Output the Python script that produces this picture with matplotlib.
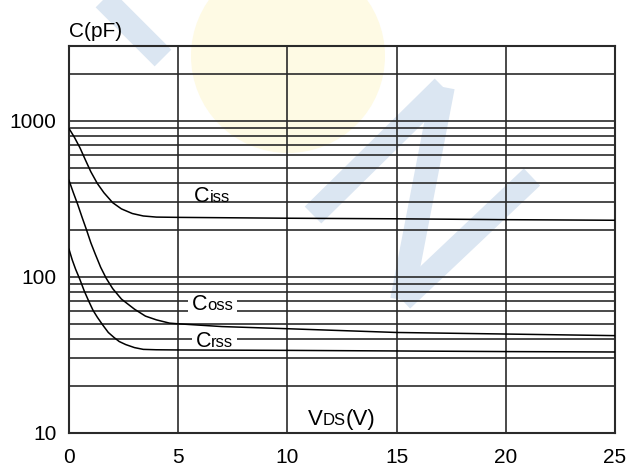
import matplotlib
matplotlib.use("Agg")
import matplotlib.pyplot as plt
from matplotlib.patches import Circle
from matplotlib.lines import Line2D

plt.rcParams['font.family'] = ['Liberation Sans', 'DejaVu Sans']

# ---- data ----
vds_ciss = [0, 0.25, 0.5, 0.75, 1.0, 1.3, 1.6, 2.0, 2.4, 2.9, 3.4, 4, 5,
            10, 15, 20, 25]
ciss = [890, 780, 670, 560, 470, 395, 345, 298, 272, 254, 245, 241, 240,
        237, 235, 232, 230]

vds_coss = [0, 0.2, 0.4, 0.6, 0.8, 1.0, 1.2, 1.45, 1.7, 2.0, 2.4, 3, 3.5,
            4, 4.6, 5, 7, 10, 15, 20, 25]
coss = [414, 345, 290, 240, 200, 165, 140, 115, 98, 84, 72, 62, 56,
        53, 50.5, 50, 48, 46.5, 44, 43, 42]

vds_crss = [0, 0.15, 0.3, 0.5, 0.7, 0.9, 1.1, 1.3, 1.55, 1.8, 2.05, 2.3,
            2.6, 3.0, 3.4, 4, 5, 10, 15, 20, 25]
crss = [150, 128, 112, 96, 81, 70, 61, 55, 49, 44, 41, 38.5,
        36.8, 35.2, 34.3, 34.1, 34, 33.8, 33.5, 33.2, 33]

x_ticks = [0, 5, 10, 15, 20, 25]
y_ticks = [10, 100, 1000]
y_tick_labels = ["10", "100", "1000"]

W, H = 638, 466
fig = plt.figure(figsize=(W / 100, H / 100), dpi=100)

# ---- faint watermark (background decoration) ----
bg = fig.add_axes([0, 0, 1, 1], zorder=0)
bg.set_xlim(0, W)
bg.set_ylim(H, 0)
bg.axis('off')
bg.add_patch(Circle((288, 56), 97, facecolor='#fefae4', edgecolor='none'))
blue = '#dbe6f2'
for (x0, y0, x1, y1) in [(100, -5, 163, 58), (313, 215, 443, 87),
                         (443, 87, 402, 300), (402, 300, 532, 177)]:
    bg.add_line(Line2D([x0, x1], [y0, y1], color=blue, lw=17,
                       solid_capstyle='butt'))

# ---- main axes ----
ax = fig.add_axes([69 / W, 1 - 433 / H, (615 - 69) / W, (433 - 46) / H], zorder=1)
ax.set_facecolor('none')
ax.set_yscale('log')
ax.set_xlim(0, 25)
ax.set_ylim(10, 3000)
ax.set_axisbelow(True)

ax.grid(True, which='both', axis='y', color='#2a2a2a', lw=1.2)
ax.grid(True, which='major', axis='x', color='#2a2a2a', lw=1.2)

ax.set_xticks(x_ticks)
ax.set_xticklabels([str(v) for v in x_ticks])
ax.set_yticks(y_ticks)
ax.set_yticklabels(y_tick_labels)
ax.tick_params(axis='both', which='both', length=0, labelsize=15, colors='black')
ax.tick_params(axis='x', pad=11)
ax.tick_params(axis='y', pad=9)
for s in ax.spines.values():
    s.set_color('#2a2a2a')
    s.set_linewidth(1.5)

for xs, ys in [(vds_ciss, ciss), (vds_coss, coss), (vds_crss, crss)]:
    ax.plot(xs, ys, color='black', lw=1.1, zorder=4,
            solid_joinstyle='round')


def label(x, y, big, small, box=False):
    t1 = ax.text(x, y, big, fontsize=15.5, ha='left', va='baseline', zorder=3)
    fig.canvas.draw()
    bb = t1.get_window_extent()
    inv = ax.transData.inverted()
    x2 = inv.transform((bb.x1, 0))[0]
    t2 = ax.text(x2, y, small, fontsize=12, ha='left', va='baseline', zorder=3)
    if box:
        fig.canvas.draw()
        bb2 = t2.get_window_extent()
        xa = inv.transform((bb.x0 - 4, 0))[0]
        xb = inv.transform((bb2.x1 + 4, 0))[0]
        ax.fill_between([xa, xb], [y * 0.93] * 2, [y * 1.27] * 2,
                        color='white', lw=0, zorder=2.9)
    return t1, t2


label(5.72, 299, 'C', 'iss')
label(5.63, 61.5, 'C', 'oss', box=True)
label(5.80, 35.7, 'C', 'rss', box=True)

# axis captions
ax.text(0, 1.022, 'C(pF)', transform=ax.transAxes, fontsize=15,
        ha='left', va='baseline')
t1 = ax.text(10.94, 11.2, 'V', fontsize=16, ha='left', va='baseline')
fig.canvas.draw()
bb = t1.get_window_extent()
xv = ax.transData.inverted().transform((bb.x1, 0))[0]
t2 = ax.text(xv, 11.2, 'DS', fontsize=12, ha='left', va='baseline')
fig.canvas.draw()
bb2 = t2.get_window_extent()
xv2 = ax.transData.inverted().transform((bb2.x1, 0))[0]
ax.text(xv2, 11.2, '(V)', fontsize=16, ha='left', va='baseline')

fig.savefig('out.png', dpi=100)
